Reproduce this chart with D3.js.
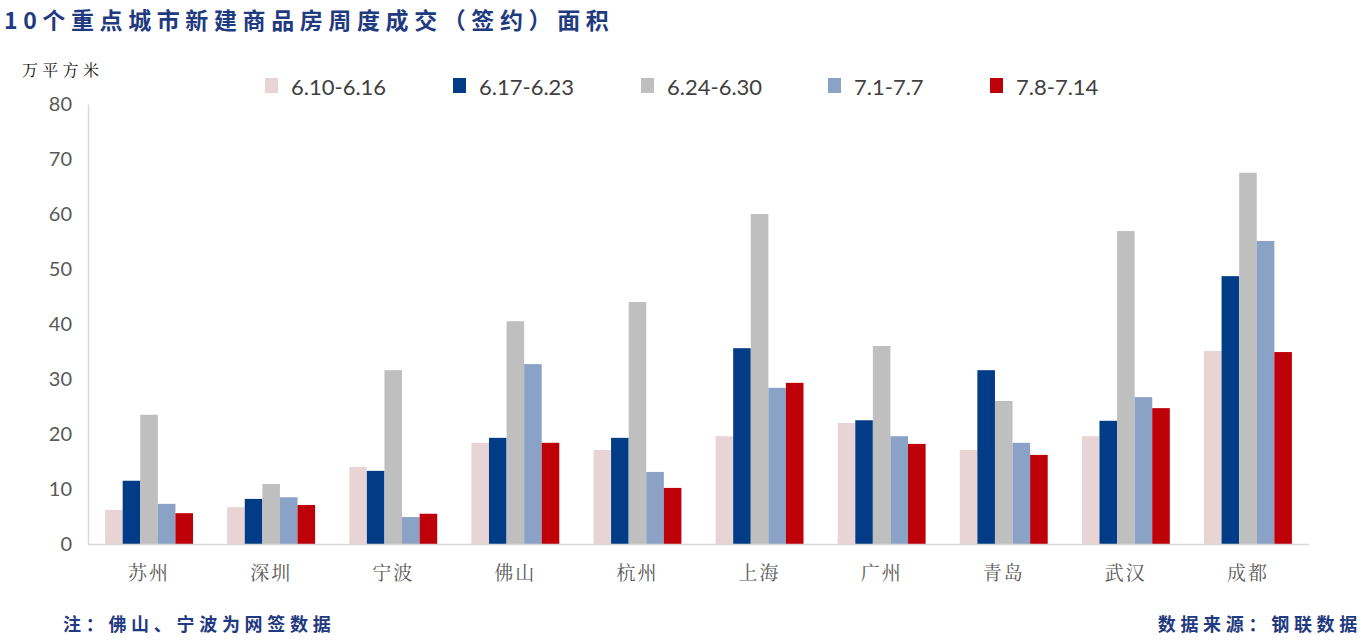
<!DOCTYPE html>
<html><head><meta charset="utf-8">
<script src="https://cdn.jsdelivr.net/npm/d3@7"></script>
<style>body{margin:0;background:#fff}svg{display:block}</style>
</head><body>
<svg id="c" width="1369" height="641"></svg>
<script>
const cities = ["苏州","深圳","宁波","佛山","杭州","上海","广州","青岛","武汉","成都"];
const seriesNames = ["6.10-6.16","6.17-6.23","6.24-6.30","7.1-7.7","7.8-7.14"];
const s1 = [6.2, 6.7, 14.0, 18.4, 17.1, 19.6, 22.0, 17.1, 19.6, 35.1];
const s2 = [11.5, 8.2, 13.3, 19.3, 19.3, 35.6, 22.5, 31.6, 22.4, 48.7];
const s3 = [23.5, 10.9, 31.6, 40.5, 44.0, 60.0, 36.0, 26.0, 56.9, 67.5];
const s4 = [7.3, 8.5, 4.9, 32.7, 13.1, 28.4, 19.6, 18.4, 26.7, 55.1];
const s5 = [5.6, 7.1, 5.5, 18.4, 10.2, 29.3, 18.2, 16.2, 24.7, 34.9];
const yTicks = [0,10,20,30,40,50,60,70,80];
const colors = ["#E8D4D4","#023B86","#BFBFBF","#8AA2C6","#BE0009"];
const series = [s1,s2,s3,s4,s5];

const svg = d3.select("#c");
const L = 88, R = 1309, T = 104, B = 544;
const x = d3.scaleBand().domain(cities).range([L,R]).paddingInner(0.28).paddingOuter(0.14);
const xs = d3.scaleBand().domain(seriesNames).range([0,x.bandwidth()]);
const y = d3.scaleLinear().domain([0,80]).range([B,T]);

// title
svg.append("text").attr("x",4).attr("y",29)
  .attr("font-family","'Noto Sans CJK SC'").attr("font-weight","bold")
  .attr("font-size",23).attr("letter-spacing",5.6).attr("fill","#1F3A80")
  .text("10个重点城市新建商品房周度成交（签约）面积");

// unit
svg.append("text").attr("x",22).attr("y",76)
  .attr("font-family","'Noto Serif CJK SC','Noto Sans CJK SC'").attr("font-size",16)
  .attr("letter-spacing",4.3).attr("fill","#111").text("万平方米");

// bars
const g = svg.append("g");
series.forEach((s,i)=>{
  g.selectAll(null).data(cities).join("rect")
   .attr("x",d=>x(d)+xs(seriesNames[i]))
   .attr("width",xs.bandwidth())
   .attr("y",(d,j)=>y(s[j]))
   .attr("height",(d,j)=>y(0)-y(s[j]))
   .attr("fill",colors[i]);
});

// axes
const ya = d3.axisLeft(y).tickValues(yTicks).tickSize(0).tickPadding(16);
const yg = svg.append("g").attr("transform",`translate(${L},0)`).call(ya);
yg.select(".domain").attr("stroke","#D9D9D9").attr("stroke-width",1.5);
yg.selectAll("text").attr("font-family","Lato, 'Open Sans', sans-serif").attr("font-size",20).attr("fill","#595959");

const xa = d3.axisBottom(x).tickSize(0).tickPadding(23);
const xg = svg.append("g").attr("transform",`translate(0,${B})`).call(xa);
xg.select(".domain").attr("stroke","#D9D9D9").attr("stroke-width",1.5);
xg.selectAll("text").attr("font-family","'Noto Serif CJK SC','Noto Sans CJK SC'").attr("font-size",19).attr("fill","#595959").attr("letter-spacing",2);

// legend
const legX = [265,453,641,828,990];
const lg = svg.append("g");
seriesNames.forEach((n,i)=>{
  lg.append("rect").attr("x",legX[i]).attr("y",78).attr("width",13).attr("height",15).attr("fill",colors[i]);
  lg.append("text").attr("x",legX[i]+26).attr("y",95).attr("font-family","Lato, 'Open Sans', sans-serif")
    .attr("font-size",22).attr("fill","#404040").text(n);
});

// footer
svg.append("text").attr("x",63).attr("y",631).attr("font-family","'Noto Sans CJK SC'").attr("font-weight","bold")
  .attr("font-size",18).attr("letter-spacing",4.7).attr("fill","#1F3A80").text("注：佛山、宁波为网签数据");
svg.append("text").attr("x",1362).attr("y",631).attr("text-anchor","end").attr("font-family","'Noto Sans CJK SC'").attr("font-weight","bold")
  .attr("font-size",18).attr("letter-spacing",4.7).attr("fill","#1F3A80").text("数据来源：钢联数据");
</script>
</body></html>
